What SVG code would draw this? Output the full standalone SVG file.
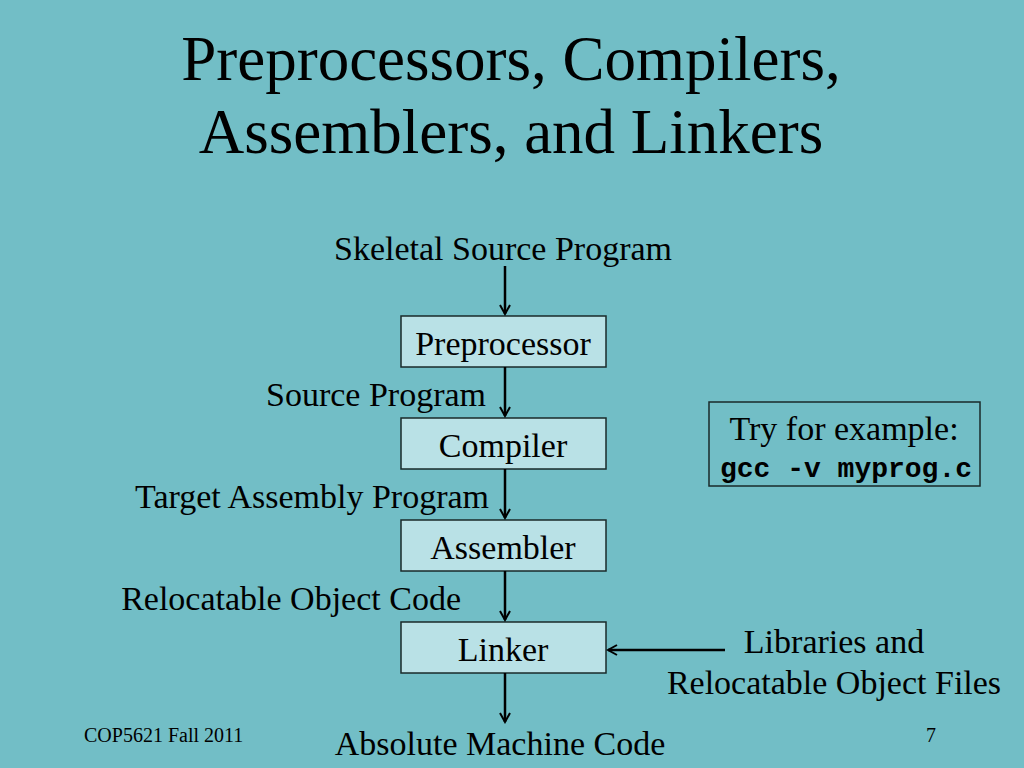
<svg xmlns="http://www.w3.org/2000/svg" width="1024" height="768" viewBox="0 0 1024 768">
<defs>
<marker id="v" markerWidth="12" markerHeight="12" refX="10" refY="6" orient="auto" markerUnits="userSpaceOnUse"><path d="M1,1 L10,6 L1,11" fill="none" stroke="#000" stroke-width="2"/></marker>
<style>
text{font-family:"Liberation Serif","Times New Roman",serif;fill:#000}
.t{font-size:34px}
.h{font-size:63px}
.s{font-size:20px}
.b{fill:#B9E1E6;stroke:#1a2a2a;stroke-width:1.5}
.a{stroke:#000;stroke-width:2.5;fill:none;marker-end:url(#v)}
</style>
</defs>
<rect width="1024" height="768" fill="#72BEC6"/>
<text class="h" x="511" y="80" text-anchor="middle">Preprocessors, Compilers,</text>
<text class="h" x="511" y="153" text-anchor="middle">Assemblers, and Linkers</text>
<text class="t" x="503" y="260" text-anchor="middle">Skeletal Source Program</text>
<g id="preprocessor"><rect class="b" x="401" y="316" width="205" height="51"/><text class="t" x="503" y="355" text-anchor="middle">Preprocessor</text></g>
<g id="compiler"><rect class="b" x="401" y="418" width="205" height="51"/><text class="t" x="503" y="457" text-anchor="middle">Compiler</text></g>
<g id="assembler"><rect class="b" x="401" y="520" width="205" height="51"/><text class="t" x="503" y="559" text-anchor="middle">Assembler</text></g>
<g id="linker"><rect class="b" x="401" y="622" width="205" height="51"/><text class="t" x="503" y="661" text-anchor="middle">Linker</text></g>
<g id="example"><rect x="709" y="402" width="271" height="84" fill="none" stroke="#1a2a2a" stroke-width="1.5"/><text class="t" x="844" y="440" text-anchor="middle">Try for example:</text><text x="846" y="477" text-anchor="middle" style="font-family:'Liberation Mono',monospace;font-weight:bold;font-size:28px">gcc -v myprog.c</text></g>
<g id="connectors">
<line class="a" x1="505" y1="266" x2="505" y2="314"/>
<line class="a" x1="505" y1="367" x2="505" y2="416"/>
<line class="a" x1="505" y1="469" x2="505" y2="518"/>
<line class="a" x1="505" y1="571" x2="505" y2="620"/>
<line class="a" x1="505" y1="673" x2="505" y2="722"/>
<line class="a" x1="725" y1="650" x2="608" y2="650"/>
</g>
<text class="t" x="486" y="406" text-anchor="end">Source Program</text>
<text class="t" x="489" y="508" text-anchor="end">Target Assembly Program</text>
<text class="t" x="461" y="610" text-anchor="end">Relocatable Object Code</text>
<text class="t" x="834" y="653" text-anchor="middle">Libraries and</text>
<text class="t" x="834" y="694" text-anchor="middle">Relocatable Object Files</text>
<text class="t" x="500" y="755" text-anchor="middle">Absolute Machine Code</text>
<text class="s" x="84" y="742">COP5621 Fall 2011</text>
<text class="s" x="926" y="742">7</text>
</svg>
